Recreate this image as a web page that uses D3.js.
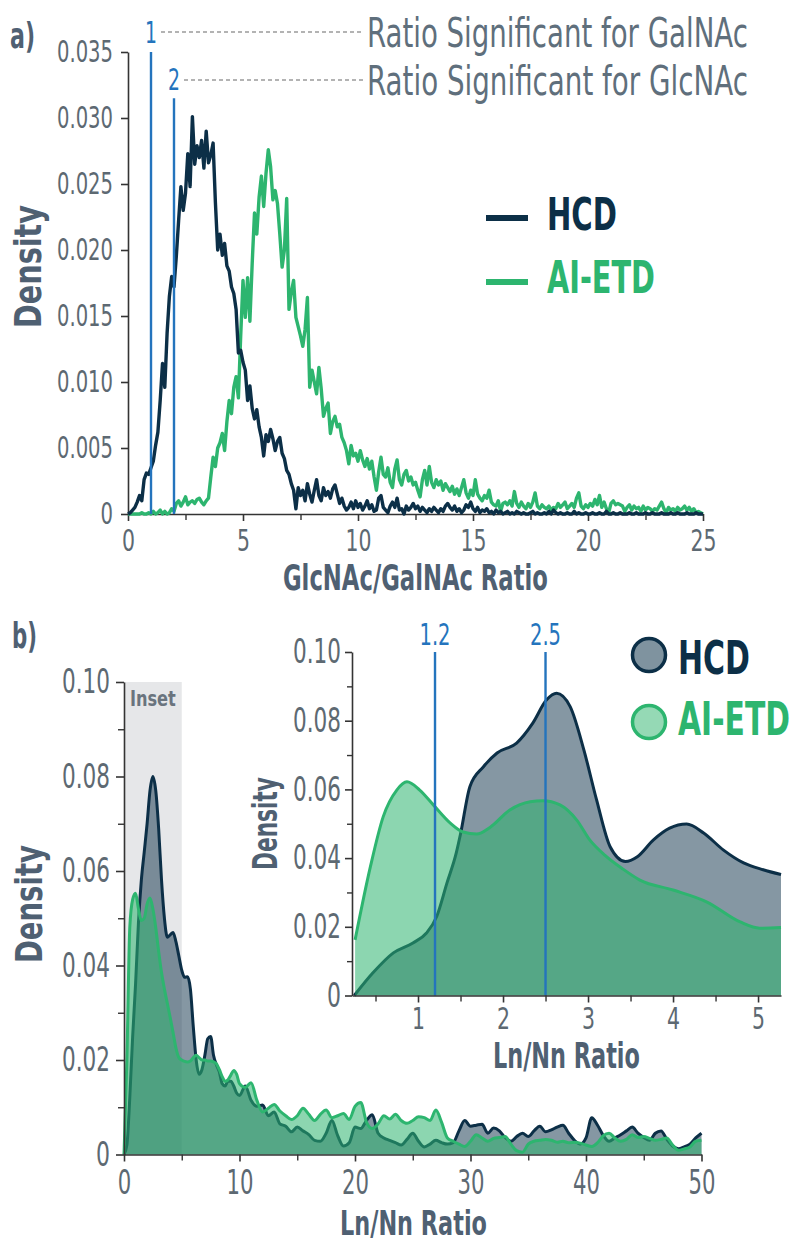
<!DOCTYPE html>
<html><head><meta charset="utf-8">
<script src="https://cdn.jsdelivr.net/npm/d3@7"></script>
<style>
body{margin:0;background:#fff;}
svg text{font-family:"Liberation Sans Narrow","DejaVu Sans Condensed","Roboto Condensed","Liberation Sans",sans-serif;}
</style></head><body>
<svg id="c" width="797" height="1243"></svg>
<script>
// ---------------- DATA ----------------
// Panel a: density of GlcNAc/GalNAc ratio, bins from 0 to 25 in steps of 0.1
const ratioStart = 0, ratioStep = 0.1;
const hcdRatioDensity = [
0,0.0001,0.0003,0.0005,0.0009,0.0014,0.0010,0.0026,0.0031,0.0030,
0.0035,0.0040,0.0052,0.0062,0.0086,0.0114,0.0096,0.0137,0.0165,0.0180,
0.0172,0.0195,0.0222,0.0248,0.0230,0.0243,0.0273,0.0248,0.0301,0.0265,
0.0279,0.0270,0.0283,0.0262,0.0290,0.0266,0.0272,0.0281,0.0236,0.0200,
0.0212,0.0196,0.0205,0.0188,0.0184,0.0172,0.0167,0.0155,0.0122,0.0124,
0.0115,0.0109,0.0086,0.0097,0.0080,0.0072,0.0079,0.0066,0.0058,0.0044,
0.0060,0.0055,0.0064,0.0057,0.0048,0.0055,0.0058,0.0046,0.0042,0.0033,
0.0030,0.0023,0.0018,0.0004,0.0020,0.0014,0.0018,0.0010,0.0023,0.0015,
0.0009,0.0018,0.0026,0.0014,0.0010,0.0020,0.0014,0.0017,0.0012,0.0019,
0.0022,0.0015,0.0008,0.0012,0.0006,0.0003,0.0005,0.0009,0.0004,0.0010,
0.0005,0.0008,0.0003,0.0006,0.0010,0.0004,0.0007,0.0002,0.0003,0.0012,
0.0014,0.0005,0.0003,0.0001,0.0006,0.0009,0.0005,0.0012,0.0003,0.0004,
0,0.0006,0.0003,0.0005,0.0008,0.0004,0.0006,0.0002,0.0005,0.0003,
0.0001,0.0004,0.0002,0.0005,0.0003,0.0001,0.0004,0.0002,0.0006,0.0008,
0.0005,0.0003,0.0006,0.0002,0.0004,0.0001,0.0003,0.0007,0.0005,0.0009,
0.0004,0.0002,0.0005,0.0001,0.0003,0.0002,0.0004,0.0001,0.0002,0,
0.0003,0.0001,0.0002,0,0.0001,0.0002,0,0.0001,0,0.0002,
0.0001,0,0.0001,0,0,0.0001,0.0002,0,0.0001,0,
0,0.0001,0,0.0002,0,0.0003,0.0001,0,0.0001,0,
0,0.0001,0,0,0.0002,0,0.0001,0,0,0.0001,
0,0,0.0001,0,0,0.0001,0,0,0.0002,0,
0,0.0001,0,0,0.0001,0,0,0,0.0001,0,
0,0.0001,0,0,0,0.0001,0,0,0.0001,0,
0,0,0.0001,0,0,0,0.0001,0,0,0.0001,
0,0,0,0.0001,0,0,0,0.0001,0,0,
0];
const aietdRatioDensity = [
0,0,0,0,0,0,0.0001,0,0,0.0001,
0,0.0002,0,0.0001,0.0003,0,0.0002,0,0.0001,0.0004,
0.0002,0.0008,0.0010,0.0006,0.0009,0.0013,0.0007,0.0009,0.0010,0.0008,
0.0011,0.0012,0.0009,0.0007,0.0010,0.0012,0.0028,0.0043,0.0036,0.0050,
0.0054,0.0061,0.0048,0.0070,0.0086,0.0076,0.0096,0.0104,0.0088,0.0135,
0.0177,0.0149,0.0179,0.0146,0.0190,0.0228,0.0212,0.0240,0.0256,0.0233,
0.0258,0.0276,0.0263,0.0238,0.0245,0.0235,0.0212,0.0187,0.0200,0.0239,
0.0155,0.0168,0.0177,0.0149,0.0142,0.0135,0.0127,0.0140,0.0164,0.0096,
0.0109,0.0100,0.0091,0.0111,0.0095,0.0074,0.0080,0.0084,0.0061,0.0070,
0.0074,0.0066,0.0068,0.0058,0.0054,0.0048,0.0038,0.0052,0.0044,0.0046,
0.0040,0.0048,0.0041,0.0036,0.0042,0.0034,0.0040,0.0028,0.0018,0.0032,
0.0043,0.0030,0.0028,0.0035,0.0024,0.0020,0.0034,0.0041,0.0026,0.0022,
0.0030,0.0033,0.0025,0.0028,0.0022,0.0024,0.0018,0.0013,0.0026,0.0033,
0.0022,0.0036,0.0024,0.0020,0.0026,0.0022,0.0025,0.0018,0.0023,0.0020,
0.0017,0.0021,0.0015,0.0019,0.0014,0.0020,0.0026,0.0016,0.0012,0.0018,
0.0014,0.0026,0.0015,0.0012,0.0010,0.0014,0.0012,0.0018,0.0009,0.0007,
0.0006,0.0010,0.0002,0.0008,0.0009,0.0007,0.0010,0.0006,0.0017,0.0008,
0.0005,0.0009,0.0006,0.0004,0.0008,0.0005,0.0009,0.0016,0.0006,0.0004,
0.0007,0.0005,0.0004,0.0006,0.0003,0.0005,0.0004,0.0008,0.0005,0.0007,
0.0009,0.0004,0.0006,0.0008,0.0005,0.0012,0.0016,0.0006,0.0004,0.0007,
0.0005,0.0008,0.0006,0.0011,0.0007,0.0014,0.0005,0.0009,0.0004,0.0001,
0.0008,0.0010,0.0007,0.0008,0.0007,0.0006,0.0002,0.0005,0.0007,0.0003,
0.0006,0.0004,0.0005,0.0002,0.0006,0.0003,0.0005,0.0004,0.0002,0.0004,
0.0003,0.0006,0.0009,0.0004,0.0001,0.0005,0.0003,0.0004,0.0002,0.0005,
0.0003,0.0004,0.0006,0.0003,0.0005,0.0002,0.0004,0.0001,0.0002,0.0001,
0];
const significantRatios = [1, 2];
const significantLabels = ["1", "2"];
const significantNotes = ["Ratio Significant for GalNAc", "Ratio Significant for GlcNAc"];
const ratioTicks = [0, 5, 10, 15, 20, 25];
const ratioMinorTicks = [2.5, 7.5, 12.5, 17.5, 22.5];
const densityTicksA = [0, 0.005, 0.010, 0.015, 0.020, 0.025, 0.030, 0.035];
const densityLabelsA = ["0", "0.005", "0.010", "0.015", "0.020", "0.025", "0.030", "0.035"];

// Panel b: density of Ln/Nn ratio
const lnnnX = [0,0.25,0.5,0.75,1,1.25,1.5,1.75,2,2.25,2.5,2.75,3,3.25,3.5,3.75,4,4.25,4.5,4.75,
5,5.25,5.5,5.75,6,6.25,6.5,6.75,7,7.25,7.5,7.75,8,8.25,8.5,8.75,9,9.25,9.5,9.75,10,
10.5,11,11.5,12,12.5,13,13.5,14,14.5,15,15.5,16,16.5,17,17.5,18,18.5,19,19.5,20,
20.5,21,21.5,22,22.5,23,23.5,24,24.5,25,25.5,26,26.5,27,27.5,28,28.5,29,29.5,30,
30.5,31,31.5,32,32.5,33,33.5,34,34.5,35,35.5,36,36.5,37,37.5,38,38.5,39,39.5,40,
40.5,41,41.5,42,42.5,43,43.5,44,44.5,45,45.5,46,46.5,47,47.5,48,48.5,49,49.5,50];
const hcdLnnn = [0,0.002,0.012,0.025,0.036,0.049,0.058,0.064,0.070,0.077,0.080,0.077,0.069,0.058,0.050,0.046,0.0465,0.047,0.045,0.042,
0.039,0.0375,0.0376,0.035,0.027,0.020,0.017,0.018,0.021,0.0245,0.025,0.021,0.019,0.0175,0.015,0.0145,0.0155,0.0155,0.0145,0.013,0.0125,
0.0145,0.0115,0.0102,0.0105,0.0082,0.009,0.0065,0.006,0.0048,0.0058,0.005,0.0042,0.003,0.0028,0.0045,0.0072,0.004,0.0018,0.0025,0.0058,
0.0055,0.0072,0.0084,0.0045,0.0035,0.003,0.0025,0.002,0.0032,0.0045,0.0028,0.0016,0.0022,0.003,0.0025,0.0022,0.0025,0.005,0.0072,0.006,
0.0062,0.0064,0.0045,0.0056,0.005,0.0036,0.0028,0.0038,0.0045,0.0038,0.005,0.006,0.0048,0.0052,0.0058,0.0062,0.0045,0.003,0.0022,0.0035,
0.0078,0.0062,0.004,0.0028,0.0035,0.0042,0.005,0.0058,0.0045,0.0036,0.003,0.0045,0.005,0.0032,0.0018,0.0012,0.0016,0.0022,0.0035,0.0045];
const aietdLnnn = [0,0.02,0.048,0.054,0.0553,0.052,0.0495,0.050,0.053,0.0543,0.052,0.048,0.043,0.0385,0.035,0.032,0.029,0.0258,0.0225,0.0205,
0.020,0.0197,0.0196,0.0198,0.0205,0.021,0.0205,0.020,0.020,0.0198,0.0198,0.0196,0.0192,0.018,0.0165,0.0155,0.0158,0.0168,0.0178,0.017,0.015,
0.0142,0.0152,0.0115,0.009,0.0098,0.0106,0.0092,0.0082,0.0074,0.0082,0.0098,0.0085,0.0072,0.0085,0.0094,0.0078,0.0082,0.0087,0.0074,0.0102,
0.011,0.0068,0.0055,0.0065,0.0082,0.0075,0.0085,0.0072,0.0066,0.0072,0.008,0.0078,0.0072,0.0094,0.0068,0.0035,0.0028,0.0022,0.0017,0.0028,
0.0042,0.0035,0.0028,0.0034,0.0036,0.0038,0.0022,0.0008,0.0005,0.0022,0.0028,0.003,0.0032,0.003,0.0026,0.0028,0.0025,0.0026,0.0024,0.002,
0.0017,0.0025,0.004,0.0045,0.0035,0.0028,0.0032,0.0042,0.0036,0.0038,0.0034,0.003,0.0032,0.0035,0.002,0.0009,0.0012,0.0016,0.0028,0.003];
const insetRange = [0, 5];
const lnnnTicks = [0, 10, 20, 30, 40, 50];
const lnnnMinorTicks = [5, 15, 25, 35, 45];
const densityTicksB = [0, 0.02, 0.04, 0.06, 0.08, 0.10];
const densityLabelsB = ["0", "0.02", "0.04", "0.06", "0.08", "0.10"];
const densityMinorB = [0.01, 0.03, 0.05, 0.07, 0.09];

// Inset (zoom 0.25 - 5.25)
const hcdInsetX = [0.25,0.47,0.71,0.94,1.1,1.22,1.34,1.45,1.5,1.61,1.77,1.93,2.16,2.35,2.51,2.63,2.79,2.95,3.1,3.26,3.44,3.58,3.77,3.96,4.16,4.36,4.59,4.83,5.06,5.27];
const hcdInsetY = [0,0.0066,0.0124,0.0153,0.0182,0.023,0.0327,0.0415,0.047,0.0608,0.0666,0.0706,0.0735,0.0793,0.086,0.088,0.0841,0.0716,0.057,0.0433,0.039,0.0404,0.0453,0.0487,0.0499,0.0473,0.0424,0.0386,0.0366,0.0352];
const aietdInsetX = [0.26,0.44,0.59,0.75,0.87,1.02,1.18,1.38,1.53,1.69,1.85,2.08,2.32,2.47,2.67,2.87,3.02,3.2,3.4,3.61,4.0,4.4,4.79,5.02,5.27];
const aietdInsetY = [0.0162,0.0375,0.052,0.0598,0.0622,0.0598,0.0555,0.0502,0.0476,0.047,0.049,0.054,0.0564,0.0567,0.0555,0.051,0.0453,0.0408,0.037,0.0336,0.0307,0.0272,0.0214,0.0196,0.0198];
const insetMarks = [1.2, 2.5];
const insetMarkLabels = ["1.2", "2.5"];
const insetXTicks = [1, 2, 3, 4, 5];
const insetXMinor = [0.5, 1.5, 2.5, 3.5, 4.5];
const seriesNames = ["HCD", "AI-ETD"];

// ---------------- STYLE ----------------
const NAVY = "#0c2f47", GREEN = "#2db56f", BLUE = "#2474bd";
const AXIS = "#343434", TICKTXT = "#5d6972", TITLE = "#4f6072";
const svg = d3.select("#c");

// squeeze a text horizontally (about its anchor point) so it takes the given width
function squeeze(node, len, ax, ay, pre, ky) {
  const w = node.getComputedTextLength();
  const k = w > 0 ? len / w : 1;
  node.setAttribute("transform", `${pre || ""} translate(${ax},${ay}) scale(${k},${ky || 1}) translate(${-ax},${-ay})`);
}
function styleAxis(g, fs, digitW, dotW) {
  g.attr("font-family", null).attr("font-size", null);
  g.select(".domain").attr("stroke", AXIS).attr("stroke-width", 1.6);
  g.selectAll(".tick line").attr("stroke", AXIS).attr("stroke-width", 1.6);
  g.selectAll(".tick text").attr("fill", TICKTXT).style("font-size", fs + "px").each(function () {
    const s = this.textContent, dots = (s.match(/\./g) || []).length;
    const ax = +this.getAttribute("x") || 0, ay = +this.getAttribute("y") || 0;
    squeeze(this, (s.length - dots) * digitW + dots * dotW, ax, ay);
  });
}
function minor(g, axis) { g.call(axis); g.attr("font-family", null); g.select(".domain").remove();
  g.selectAll(".tick line").attr("stroke", AXIS).attr("stroke-width", 1.4); g.selectAll(".tick text").remove(); }
function label(txt, x, y, fs, color, opts = {}) {
  const t = svg.append("text").attr("x", x).attr("y", y).text(txt)
    .attr("fill", color).style("font-size", fs + "px")
    .attr("font-weight", opts.bold ? "bold" : "normal")
    .attr("text-anchor", opts.anchor || "start");
  const pre = opts.rotate ? `rotate(-90,${x},${y})` : "";
  if (opts.len) squeeze(t.node(), opts.len, x, y, pre, opts.ky);
  else if (pre) t.attr("transform", pre);
  return t;
}

// ---------------- PANEL A ----------------
const xA = d3.scaleLinear().domain([0, 25]).range([128, 703]);
const yA = d3.scaleLinear().domain([0, 0.035]).range([514, 52]);
const gA = svg.append("g");
const ptsH = hcdRatioDensity.map((v, i) => [ratioStart + i * ratioStep, v]);
const ptsG = aietdRatioDensity.map((v, i) => [ratioStart + i * ratioStep, v]);
const lineA = d3.line().x(d => xA(d[0])).y(d => yA(d[1]));

gA.append("g").attr("transform", "translate(0,514)")
  .call(g => minor(g, d3.axisBottom(xA).tickValues(ratioMinorTicks).tickSize(6)));
gA.append("g").attr("transform", "translate(0,514)")
  .call(d3.axisBottom(xA).tickValues(ratioTicks).tickFormat(d3.format("d")).tickSize(7).tickSizeOuter(0).tickPadding(8))
  .call(g => styleAxis(g, 31, 13, 6));
gA.append("g").attr("transform", "translate(128,0)")
  .call(d3.axisLeft(yA).tickValues(densityTicksA).tickFormat((d, i) => densityLabelsA[i]).tickSize(7).tickSizeOuter(0).tickPadding(8))
  .call(g => styleAxis(g, 31, 12.5, 6));

gA.append("path").datum(ptsG).attr("d", lineA).attr("fill", "none").attr("stroke", GREEN).attr("stroke-width", 3.4).attr("stroke-linejoin", "round");
gA.append("path").datum(ptsH).attr("d", lineA).attr("fill", "none").attr("stroke", NAVY).attr("stroke-width", 3.4).attr("stroke-linejoin", "round");

// significance lines
const sigTop = [yA(0.035), yA(0.0315)];
const sigLabelY = [43, 90];
const sigDashY = [32, 80];
significantRatios.forEach((r, i) => {
  gA.append("line").attr("x1", xA(r)).attr("x2", xA(r)).attr("y1", yA(0)).attr("y2", sigTop[i])
    .attr("stroke", BLUE).attr("stroke-width", 2.4);
  label(significantLabels[i], xA(r), sigLabelY[i], 31, BLUE, { anchor: "middle", len: 12 });
  gA.append("line").attr("x1", xA(r) + 10).attr("x2", 363).attr("y1", sigDashY[i]).attr("y2", sigDashY[i])
    .attr("stroke", "#9a9a9a").attr("stroke-width", 1.3).attr("stroke-dasharray", "4,3");
  label(significantNotes[i], 367, [47, 95][i], 41, "#5f6f7c", { len: 381 });
});

// legend a
[[218, 230, NAVY, 70], [282, 293, GREEN, 108]].forEach(([ly, ty, c, len], i) => {
  svg.append("line").attr("x1", 486).attr("x2", 528).attr("y1", ly).attr("y2", ly).attr("stroke", c).attr("stroke-width", 6);
  label(seriesNames[i], 547, ty, 45, c, { bold: true, len });
});
label("a)", 10, 48, 36, TITLE, { bold: true, len: 25 });
label("Density", 41, 328, 37, TITLE, { bold: true, rotate: true, len: 123 });
label("GlcNAc/GalNAc Ratio", 283, 590, 33, TITLE, { bold: true, len: 265, ky: 1.08 });

// ---------------- PANEL B MAIN ----------------
const xB = d3.scaleLinear().domain([0, 50]).range([124, 701.5]);
const yB = d3.scaleLinear().domain([0, 0.10]).range([1154.5, 682]);
const gB = svg.append("g");
gB.append("rect").attr("x", xB(insetRange[0])).attr("width", xB(insetRange[1]) - xB(insetRange[0]))
  .attr("y", yB(0.10)).attr("height", yB(0) - yB(0.10)).attr("fill", "#e6e7e9");
const insetTxt = gB.append("text").attr("x", xB(2.5)).attr("y", 706).text("Inset")
  .attr("fill", "#6a747e").style("font-size", "22px").attr("font-weight", "bold").attr("text-anchor", "middle");
squeeze(insetTxt.node(), 46, xB(2.5), 706);

const ptsHB = lnnnX.map((x, i) => [x, hcdLnnn[i]]);
const ptsGB = lnnnX.map((x, i) => [x, aietdLnnn[i]]);
const areaB = d3.area().x(d => xB(d[0])).y0(yB(0)).y1(d => yB(d[1])).curve(d3.curveMonotoneX);
const lineB = d3.line().x(d => xB(d[0])).y(d => yB(d[1])).curve(d3.curveMonotoneX);
gB.append("path").datum(ptsHB).attr("d", areaB).attr("fill", NAVY).attr("fill-opacity", 0.5);
gB.append("path").datum(ptsHB).attr("d", lineB).attr("fill", "none").attr("stroke", NAVY).attr("stroke-width", 3);
gB.append("path").datum(ptsGB).attr("d", areaB).attr("fill", GREEN).attr("fill-opacity", 0.55);
gB.append("path").datum(ptsGB).attr("d", lineB).attr("fill", "none").attr("stroke", GREEN).attr("stroke-width", 3);

gB.append("g").attr("transform", "translate(0,1154.5)")
  .call(g => minor(g, d3.axisBottom(xB).tickValues(lnnnMinorTicks).tickSize(6)));
gB.append("g").attr("transform", "translate(0,1154.5)")
  .call(d3.axisBottom(xB).tickValues(lnnnTicks).tickFormat(d3.format("d")).tickSize(7).tickSizeOuter(0).tickPadding(9))
  .call(g => styleAxis(g, 33, 13.5, 6));
gB.append("g").attr("transform", "translate(124,0)")
  .call(g => minor(g, d3.axisLeft(yB).tickValues(densityMinorB).tickSize(6)));
gB.append("g").attr("transform", "translate(124,0)")
  .call(d3.axisLeft(yB).tickValues(densityTicksB).tickFormat((d, i) => densityLabelsB[i]).tickSize(8).tickSizeOuter(0).tickPadding(6))
  .call(g => styleAxis(g, 34, 14, 6));
label("b)", 12, 648, 36, TITLE, { bold: true, len: 25 });
label("Density", 42, 963, 37, TITLE, { bold: true, rotate: true, len: 118 });
label("Ln/Nn Ratio", 340, 1235, 32, TITLE, { bold: true, len: 147, ky: 1.08 });

// ---------------- INSET ----------------
const xI = d3.scaleLinear().domain([0.2235, 5.27]).range([352, 781]);
const yI = d3.scaleLinear().domain([0, 0.10]).range([995.5, 652]);
const gI = svg.append("g");
const ptsHI = hcdInsetX.map((x, i) => [x, hcdInsetY[i]]);
const ptsGI = aietdInsetX.map((x, i) => [x, aietdInsetY[i]]);
const areaI = d3.area().x(d => xI(d[0])).y0(yI(0)).y1(d => yI(d[1])).curve(d3.curveMonotoneX);
const lineI = d3.line().x(d => xI(d[0])).y(d => yI(d[1])).curve(d3.curveMonotoneX);
gI.append("path").datum(ptsHI).attr("d", areaI).attr("fill", NAVY).attr("fill-opacity", 0.5);
gI.append("path").datum(ptsHI).attr("d", lineI).attr("fill", "none").attr("stroke", NAVY).attr("stroke-width", 3);
gI.append("path").datum(ptsGI).attr("d", areaI).attr("fill", GREEN).attr("fill-opacity", 0.55);
gI.append("path").datum(ptsGI).attr("d", lineI).attr("fill", "none").attr("stroke", GREEN).attr("stroke-width", 3);
insetMarks.forEach((m, i) => {
  gI.append("line").attr("x1", xI(m)).attr("x2", xI(m)).attr("y1", yI(0)).attr("y2", yI(0.10))
    .attr("stroke", BLUE).attr("stroke-width", 2.4);
  label(insetMarkLabels[i], xI(m), 645, 31, BLUE, { anchor: "middle", len: 31 });
});
gI.append("g").attr("transform", "translate(0,995.5)")
  .call(g => minor(g, d3.axisBottom(xI).tickValues(insetXMinor).tickSize(6)));
gI.append("g").attr("transform", "translate(0,995.5)")
  .call(d3.axisBottom(xI).tickValues(insetXTicks).tickFormat(d3.format("d")).tickSize(7).tickSizeOuter(0).tickPadding(5))
  .call(g => styleAxis(g, 31, 13, 6));
gI.append("g").attr("transform", "translate(352,0)")
  .call(g => minor(g, d3.axisLeft(yI).tickValues(densityMinorB).tickSize(5)));
gI.append("g").attr("transform", "translate(352,0)")
  .call(d3.axisLeft(yI).tickValues(densityTicksB).tickFormat((d, i) => densityLabelsB[i]).tickSize(7).tickSizeOuter(0).tickPadding(4))
  .call(g => styleAxis(g, 34, 14, 6));
label("Density", 277, 870, 33, TITLE, { bold: true, rotate: true, len: 93 });
label("Ln/Nn Ratio", 493, 1068, 32, TITLE, { bold: true, len: 147, ky: 1.1 });

// legend b
[[655, 674, NAVY, 72], [722, 735, GREEN, 112]].forEach(([cy, ty, c, len], i) => {
  svg.append("circle").attr("cx", 649).attr("cy", cy).attr("r", 16.5)
    .attr("fill", i === 0 ? "#7f939f" : "#95d9b5").attr("stroke", c).attr("stroke-width", 3.5);
  label(seriesNames[i], 678, ty, 46, c, { bold: true, len });
});
</script>
</body></html>
